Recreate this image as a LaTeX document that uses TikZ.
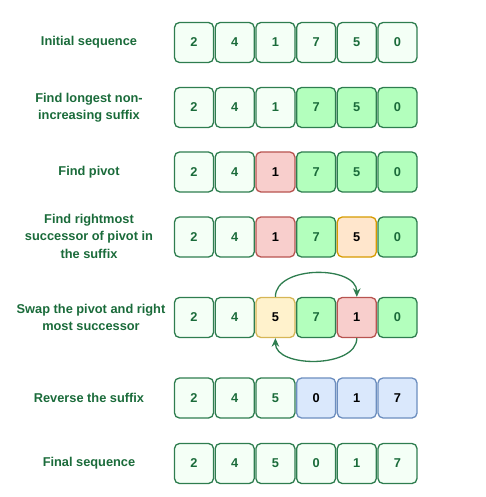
\documentclass[tikz,border=0pt]{standalone}
\usepackage{fontspec}
\setmainfont{Liberation Sans}
\usetikzlibrary{positioning, arrows.meta}
\definecolor{gfgtext}{HTML}{1A6B3A}
\definecolor{gfgline}{HTML}{2E7D4F}
\definecolor{cellwhite}{HTML}{F4FFF6}
\definecolor{cellgreen}{HTML}{B3FFBD}
\definecolor{pivotfill}{HTML}{F8CECC}
\definecolor{pivotline}{HTML}{B85450}
\definecolor{succfill}{HTML}{FFE6CC}
\definecolor{succline}{HTML}{D79B00}
\definecolor{movedfill}{HTML}{FFF2CC}
\definecolor{movedline}{HTML}{D6B656}
\definecolor{revfill}{HTML}{DAE8FC}
\definecolor{revline}{HTML}{6C8EBF}
\tikzset{
    x=1pt, y=1pt,
    every node/.style={font=\bfseries\fontsize{12.8}{17.5}\selectfont}, % all texts bold sans
    cell/.style={draw=gfgline, line width=1.3pt, rounded corners=5pt,
                 minimum width=39pt, minimum height=40pt, inner sep=0pt, text=gfgtext},
    plain/.style={cell, fill=cellwhite},
    suffix/.style={cell, fill=cellgreen},
    pivot/.style={cell, fill=pivotfill, draw=pivotline, text=black},
    succ/.style={cell, fill=succfill, draw=succline, text=black},
    moved/.style={cell, fill=movedfill, draw=movedline, text=black},
    reversed/.style={cell, fill=revfill, draw=revline, text=black},
    steplabel/.style={text=gfgtext, align=center},
    swaparrow/.style={-{Stealth[length=8.5pt, width=7.5pt]}, draw=gfgline, line width=1.3pt},
}
\begin{document}
\begin{tikzpicture}
    \useasboundingbox (0,0) rectangle (486,-497);
    % step labels
    \node[steplabel] (lbl1) at (89,-42.5) {Initial sequence};
    \node[steplabel] (lbl2) at (89,-107.5) {Find longest non-\\increasing suffix};
    \node[steplabel] (lbl3) at (89,-172) {Find pivot};
    \node[steplabel] (lbl4) at (89,-236) {Find rightmost\\successor of pivot in\\the suffix};
    \node[steplabel] (lbl5) at (91,-317.5) {Swap the pivot and right\\most successor};
    \node[steplabel] (lbl6) at (89,-398) {Reverse the suffix};
    \node[steplabel] (lbl7) at (89,-463.5) {Final sequence};
    % sequences
    \foreach \v/\s [count=\i] in {2/plain,4/plain,1/plain,7/plain,5/plain,0/plain}
        \node[\s] (c1\i) at (153.3+40.7*\i,-42.5) {\v};
    \foreach \v/\s [count=\i] in {2/plain,4/plain,1/plain,7/suffix,5/suffix,0/suffix}
        \node[\s] (c2\i) at (153.3+40.7*\i,-107.5) {\v};
    \foreach \v/\s [count=\i] in {2/plain,4/plain,1/pivot,7/suffix,5/suffix,0/suffix}
        \node[\s] (c3\i) at (153.3+40.7*\i,-172) {\v};
    \foreach \v/\s [count=\i] in {2/plain,4/plain,1/pivot,7/suffix,5/succ,0/suffix}
        \node[\s] (c4\i) at (153.3+40.7*\i,-237) {\v};
    \foreach \v/\s [count=\i] in {2/plain,4/plain,5/moved,7/suffix,1/pivot,0/suffix}
        \node[\s] (c5\i) at (153.3+40.7*\i,-317.5) {\v};
    \foreach \v/\s [count=\i] in {2/plain,4/plain,5/plain,0/reversed,1/reversed,7/reversed}
        \node[\s] (c6\i) at (153.3+40.7*\i,-398) {\v};
    \foreach \v/\s [count=\i] in {2/plain,4/plain,5/plain,0/plain,1/plain,7/plain}
        \node[\s] (c7\i) at (153.3+40.7*\i,-463.5) {\v};
    % swap arrows
    \draw[swaparrow] (c53.north) to[out=90, in=90, looseness=1] (c55.north);
    \draw[swaparrow] (c55.south) to[out=-90, in=-90, looseness=0.95] (c53.south);
\end{tikzpicture}
\end{document}
